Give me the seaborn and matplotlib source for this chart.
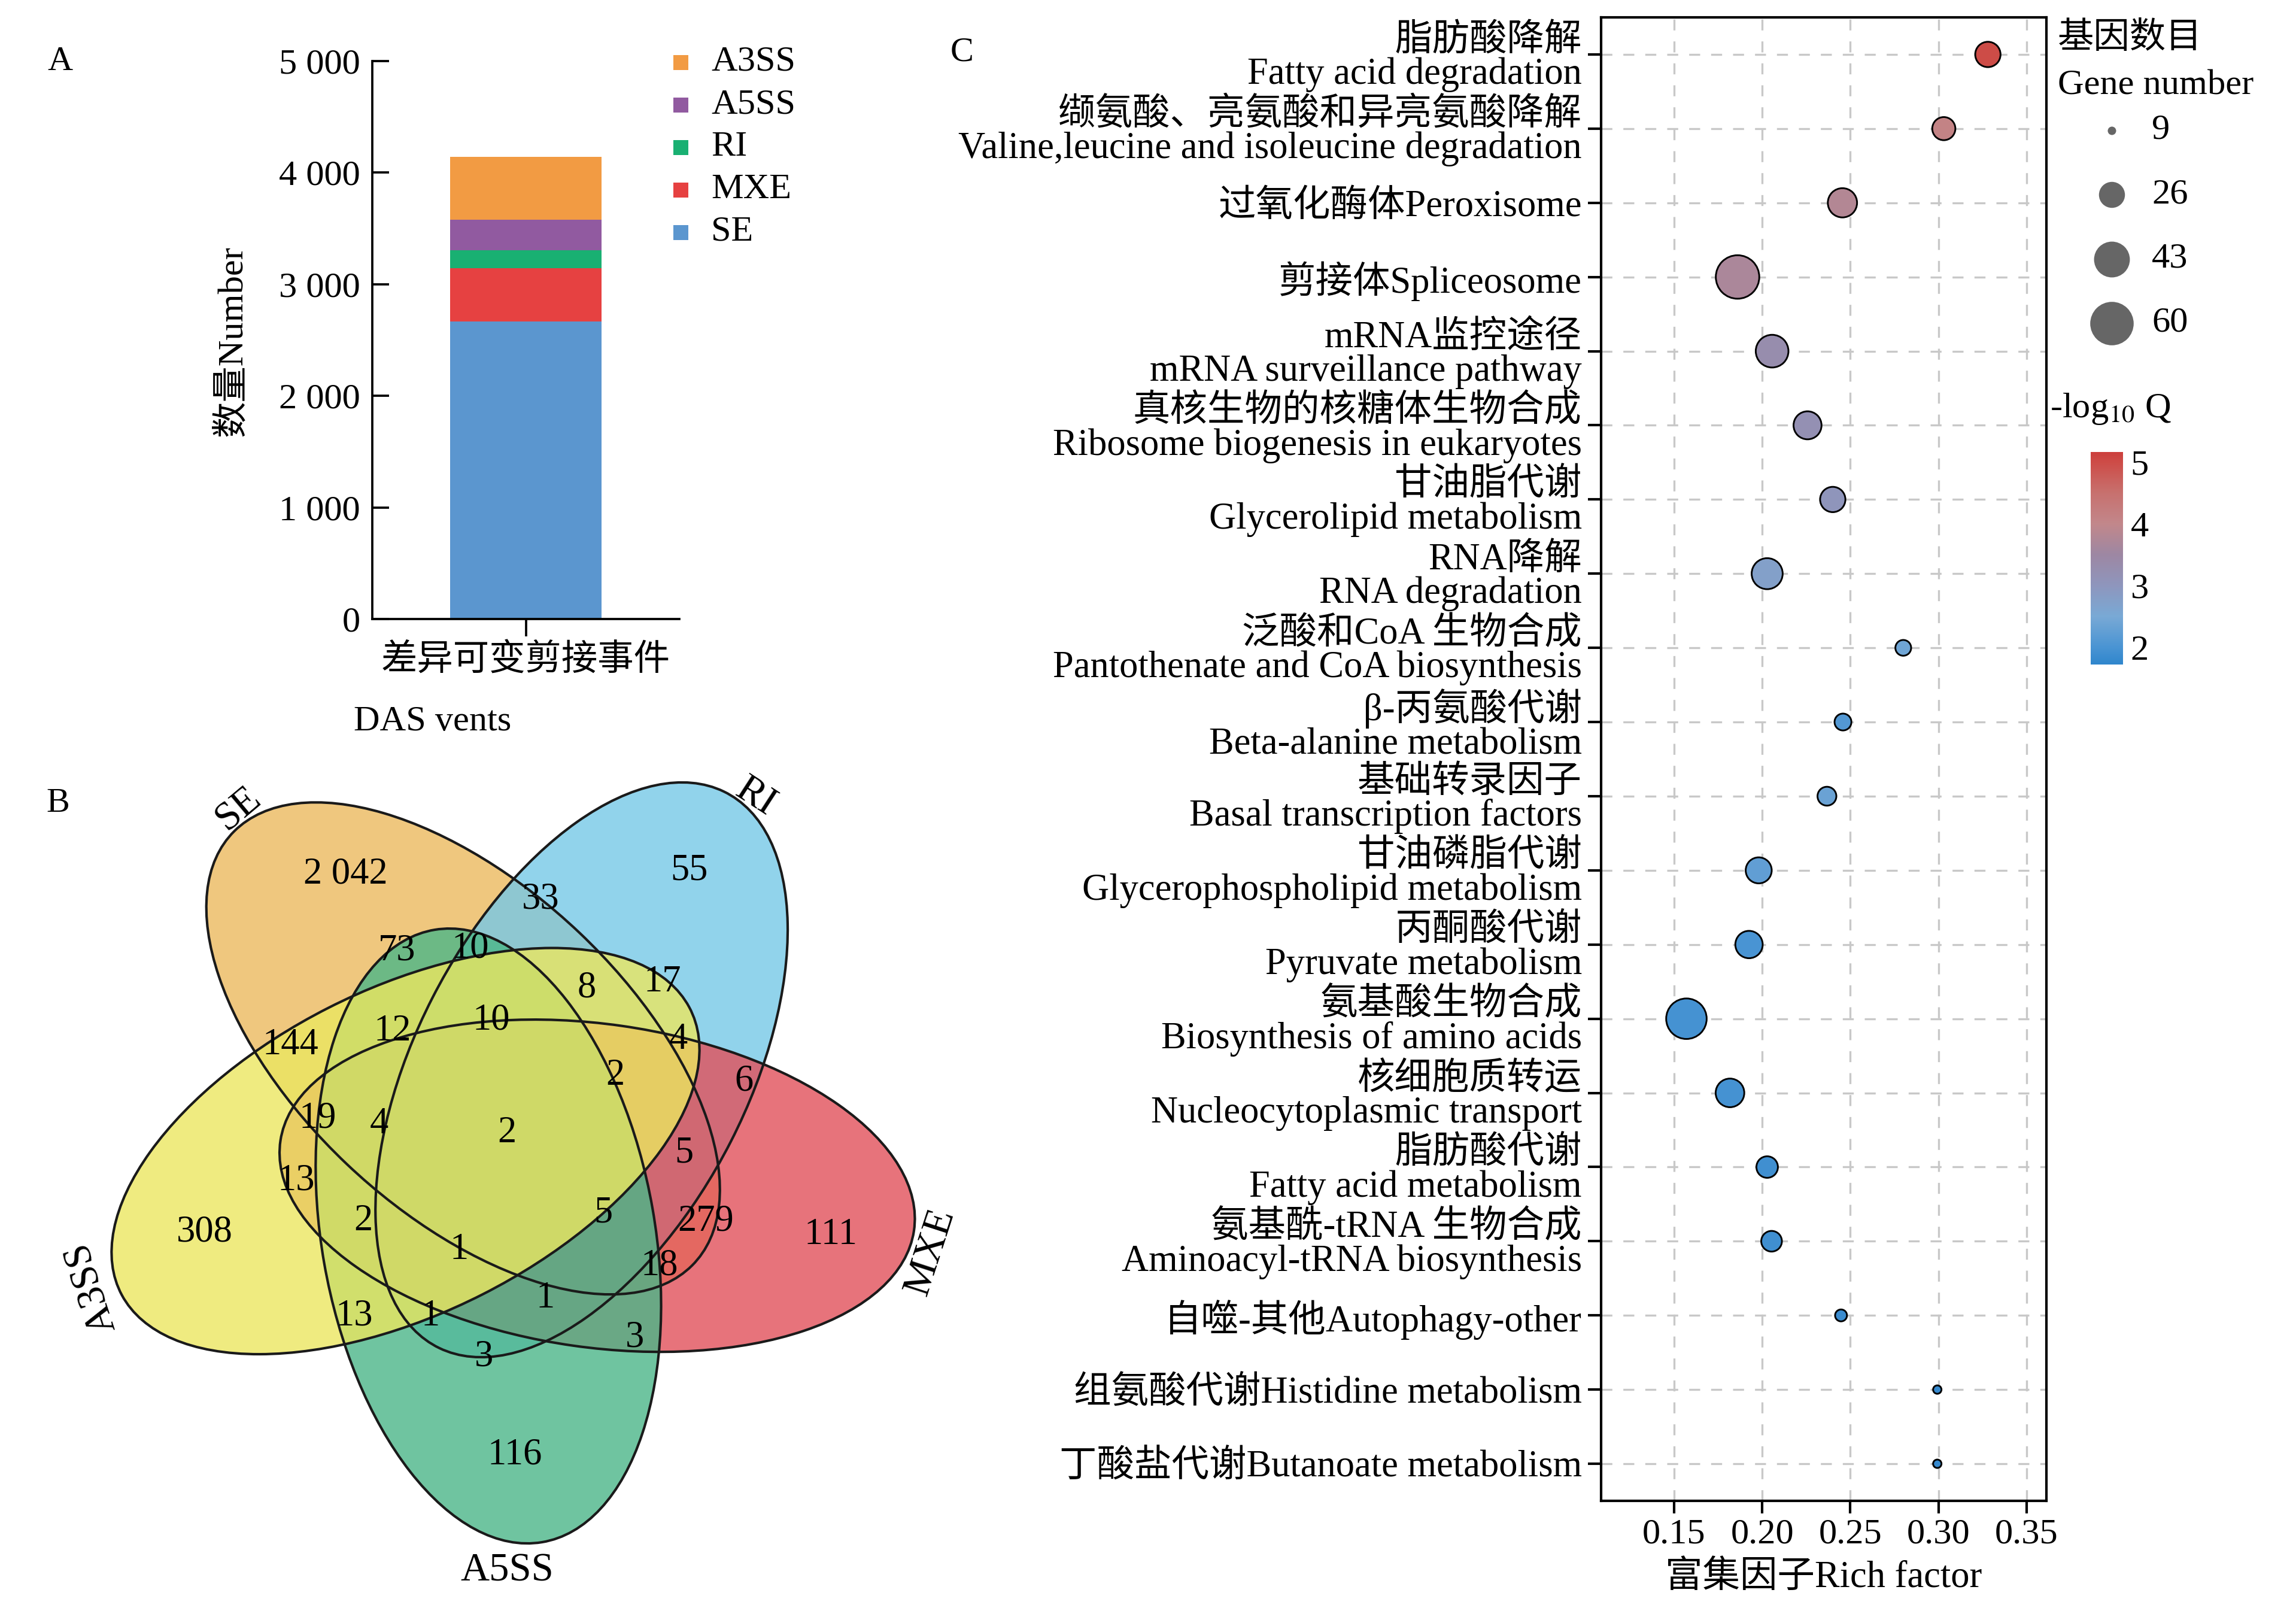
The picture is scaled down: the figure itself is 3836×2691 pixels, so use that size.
import numpy as np
import pandas as pd
import matplotlib
matplotlib.use("Agg")
import matplotlib.pyplot as plt
from matplotlib.patches import Ellipse
from matplotlib.colors import LinearSegmentedColormap, Normalize
from matplotlib.ticker import FuncFormatter
import seaborn as sns

# Macros
WIDTH_PX = 3836
HEIGHT_PX = 2691
DPI = 300
FONT = ["Liberation Serif", "Noto Sans CJK SC"]
FS = 14.5

# Panel A: differential alternative splicing events (stacked bottom -> top)
event_types = ["SE", "MXE", "RI", "A5SS", "A3SS"]
event_counts = [2668, 477, 161, 273, 563]
event_colors = ["#5b96cf", "#e64141", "#19b072", "#915aa0", "#f29b43"]
bar_category = "差异可变剪接事件"
bar_ticks = [0, 1000, 2000, 3000, 4000, 5000]

# Panel B: five-set Venn
venn_sets = ["SE", "RI", "MXE", "A5SS", "A3SS"]
venn_colors = ["#ebb95e", "#76c8e7", "#e2505a", "#4bb688", "#ebe760"]
venn_counts = ["2 042", "55", "33", "73", "10", "8", "17", "144", "12", "10",
               "4", "2", "6", "19", "4", "2", "5", "13", "308", "2",
               "5", "279", "111", "1", "18", "1", "13", "1", "3", "3", "116"]

# Panel C: KEGG enrichment
pathway_labels = [
    "脂肪酸降解\nFatty acid degradation",
    "缬氨酸、亮氨酸和异亮氨酸降解\nValine,leucine and isoleucine degradation",
    "过氧化酶体Peroxisome",
    "剪接体Spliceosome",
    "mRNA监控途径\nmRNA surveillance pathway",
    "真核生物的核糖体生物合成\nRibosome biogenesis in eukaryotes",
    "甘油脂代谢\nGlycerolipid metabolism",
    "RNA降解\nRNA degradation",
    "泛酸和CoA 生物合成\nPantothenate and CoA biosynthesis",
    "β-丙氨酸代谢\nBeta-alanine metabolism",
    "基础转录因子\nBasal transcription factors",
    "甘油磷脂代谢\nGlycerophospholipid metabolism",
    "丙酮酸代谢\nPyruvate metabolism",
    "氨基酸生物合成\nBiosynthesis of amino acids",
    "核细胞质转运\nNucleocytoplasmic transport",
    "脂肪酸代谢\nFatty acid metabolism",
    "氨基酰-tRNA 生物合成\nAminoacyl-tRNA biosynthesis",
    "自噬-其他Autophagy-other",
    "组氨酸代谢Histidine metabolism",
    "丁酸盐代谢Butanoate metabolism",
]
rich_factor = [0.328, 0.303, 0.2455, 0.186, 0.2056, 0.2257, 0.240, 0.2028, 0.280, 0.2458,
               0.2367, 0.198, 0.1925, 0.157, 0.1817, 0.2028, 0.2053, 0.2447, 0.2993, 0.2993]
gene_number = [25, 22, 31, 60, 37, 29, 25, 34, 14, 15,
               17, 26, 28, 53, 30, 20, 19, 11, 9, 9]
neg_log_q = [5.0, 4.1, 3.8, 3.7, 3.3, 3.2, 3.05, 2.75, 2.4, 2.1,
             2.35, 2.25, 2.0, 1.95, 1.95, 1.9, 1.9, 1.85, 1.8, 1.8]
size_breaks = [9, 26, 43, 60]
q_ticks = [2, 3, 4, 5]
q_stops = [1.72, 2.0, 2.5, 3.0, 3.5, 4.0, 4.5, 5.0, 5.17]
q_stop_colors = ["#2f86cc", "#4a94d3", "#79a9d5", "#8e96bd", "#9d87a3",
                 "#c2878b", "#c7716f", "#cd4d48", "#cc3f3c"]

# layout (pixel positions in the 3836 x 2691 canvas)
VENN_LABEL_XY = [(577, 1461), (1151, 1454), (903, 1503), (663, 1588), (786, 1585),
                 (980, 1650), (1107, 1641), (485, 1746), (656, 1723), (821, 1705),
                 (1133, 1737), (1028, 1797), (1243, 1806), (531, 1868), (633, 1878),
                 (847, 1893), (1143, 1926), (495, 1972), (342, 2059), (607, 2040),
                 (1008, 2027), (1179, 2040), (1388, 2063), (767, 2088), (1102, 2114),
                 (911, 2169), (592, 2199), (719, 2199), (1061, 2235), (809, 2266),
                 (860, 2431)]
VENN_SET_XY = [(398, 1351, 40), (1262, 1331, -33), (1554, 2091, 72),
               (847, 2624, 0), (153, 2151, 108)]
VENN_SLOT = [3, 2, 1, 0, 4]
VENN_BOX = (179, 1307, 1526, 2578)
# ellipse shape (long semi-axis = 1) and pixel mapping, fitted to the reference
VENN_B, VENN_D, VENN_TILT, VENN_BASE = 0.5203, 0.3202, 20.181, -100.551
VENN_SX, VENN_SY, VENN_OX, VENN_OY = 534.856, 518.829, 847.32, 1901.24


def px(x0, y0, x1, y1):
    """pixel box -> figure fraction rect"""
    return [x0 / WIDTH_PX, 1 - y1 / HEIGHT_PX, (x1 - x0) / WIDTH_PX, (y1 - y0) / HEIGHT_PX]


def size_of(n):
    # marker area in pt^2, linear in gene number (r=7px at 9, r=36.3px at 60)
    s9 = (2 * 7.0 * 72 / DPI) ** 2
    s60 = (2 * 36.3 * 72 / DPI) ** 2
    return s9 + (n - 9) / (60 - 9) * (s60 - s9)


sns.set_theme(style="white")
plt.rcParams["font.family"] = FONT
plt.rcParams["mathtext.fontset"] = "stix"
plt.rcParams["axes.edgecolor"] = "black"
plt.rcParams["text.color"] = "black"
plt.rcParams["xtick.color"] = "black"
plt.rcParams["ytick.color"] = "black"
plt.rcParams["axes.labelcolor"] = "black"

fig = plt.figure(figsize=(WIDTH_PX / DPI, HEIGHT_PX / DPI), dpi=DPI)

# ---------------- A: stacked bar ----------------
axA = fig.add_axes(px(622, 102, 1135, 1034))
tops = np.cumsum(event_counts)
for name, top, color in reversed(list(zip(event_types, tops, event_colors))):
    sns.barplot(x=[bar_category], y=[top], color=color, saturation=1,
                width=0.495, linewidth=0, edgecolor="none", ax=axA)
axA.set_xlim(-0.5, 0.5)
axA.set_ylim(0, 5000)
axA.set_yticks(bar_ticks)
axA.yaxis.set_major_formatter(FuncFormatter(lambda v, p: f"{int(v):,}".replace(",", " ")))
for side in ["top", "right"]:
    axA.spines[side].set_visible(False)
for side in ["left", "bottom"]:
    axA.spines[side].set_linewidth(0.9)
axA.tick_params(axis="y", direction="in", length=6.7, width=0.9, labelsize=FS, pad=4.8, left=True)
axA.tick_params(axis="x", direction="out", length=7, width=0.9, labelsize=FS, pad=3, bottom=True)
axA.set_xlabel("")
axA.set_ylabel("")

# ---------------- B: Venn ----------------
axB = fig.add_axes(px(*VENN_BOX))
geo = []
for slot in VENN_SLOT:
    phi = VENN_BASE + 72 * slot
    geo.append((VENN_D * np.cos(np.deg2rad(phi)), VENN_D * np.sin(np.deg2rad(phi)), phi + VENN_TILT))
for (cx, cy, ang), color in zip(geo, venn_colors):
    axB.add_patch(Ellipse((cx, cy), 2, 2 * VENN_B, angle=ang, facecolor=color,
                          alpha=0.8, edgecolor="none", clip_on=False))
for cx, cy, ang in geo:
    axB.add_patch(Ellipse((cx, cy), 2, 2 * VENN_B, angle=ang, facecolor="none",
                          edgecolor="#1a1a1a", linewidth=1.0, clip_on=False))
axB.set_xlim((VENN_BOX[0] - VENN_OX) / VENN_SX, (VENN_BOX[2] - VENN_OX) / VENN_SX)
axB.set_ylim((VENN_OY - VENN_BOX[3]) / VENN_SY, (VENN_OY - VENN_BOX[1]) / VENN_SY)
axB.set_axis_off()

# ---------------- C: enrichment bubble plot ----------------
axC = fig.add_axes(px(2675, 29, 3419, 2507))
q_norm = Normalize(q_stops[0], q_stops[-1])
cmap = LinearSegmentedColormap.from_list(
    "q", list(zip([(v - q_stops[0]) / (q_stops[-1] - q_stops[0]) for v in q_stops], q_stop_colors)))
df = pd.DataFrame({"rich": rich_factor, "genes": gene_number, "q": neg_log_q,
                   "pos": np.arange(len(pathway_labels))})
sns.scatterplot(data=df, x="rich", y="pos", size="genes",
                sizes=(size_of(9), size_of(60)), size_norm=(9, 60),
                hue="q", palette=cmap, hue_norm=q_norm,
                edgecolor="black", linewidth=0.7, legend=False, ax=axC, zorder=3)
axC.set_xlim(0.1086, 0.3612)
axC.set_ylim(len(pathway_labels) - 0.5, -0.5)
axC.set_xticks([0.15, 0.20, 0.25, 0.30, 0.35])
axC.xaxis.set_major_formatter(FuncFormatter(lambda v, p: f"{v:.2f}"))
axC.set_yticks(df["pos"])
axC.set_yticklabels(pathway_labels)
for t in axC.get_yticklabels():
    t.set_linespacing(0.95)
axC.grid(True, linestyle=(0, (5.5, 5.5)), color="#c8c8c8", linewidth=0.8)
axC.set_axisbelow(True)
for side in axC.spines:
    axC.spines[side].set_linewidth(1.0)
axC.tick_params(axis="y", direction="out", length=5.3, width=1.0, labelsize=15, pad=2.4, left=True)
axC.tick_params(axis="x", direction="out", length=5.0, width=1.0, labelsize=FS, pad=2, bottom=True)
axC.set_xlabel("富集因子Rich factor", fontsize=15, labelpad=4)
axC.set_ylabel("")

# colour bar
cax = fig.add_axes(px(3493, 755, 3547, 1110))
sm = plt.cm.ScalarMappable(norm=q_norm, cmap=cmap)
cb = fig.colorbar(sm, cax=cax, ticks=q_ticks)
cb.outline.set_visible(False)
cax.tick_params(direction="in", length=2.6, width=1.0, color="white",
                left=True, right=True, labelsize=FS, pad=3)

# ---------------- overlay for free text / legends ----------------
ov = fig.add_axes([0, 0, 1, 1])
ov.set_xlim(0, WIDTH_PX)
ov.set_ylim(HEIGHT_PX, 0)
ov.set_axis_off()

# panel letters
ov.text(100, 103, "A", fontsize=14, ha="center", va="center")
ov.text(97, 1342, "B", fontsize=14, ha="center", va="center")
ov.text(1607, 87, "C", fontsize=14, ha="center", va="center")

# panel A labels + legend
ov.text(388, 570, "数量Number", fontsize=FS, rotation=90, ha="center", va="center")
ov.text(723, 1206, "DAS vents", fontsize=FS, ha="center", va="center")
for i, (name, color) in enumerate(zip(reversed(event_types), reversed(event_colors))):
    y = 104 + 71 * i
    ov.scatter([1137], [y], marker="s", s=(25 * 72 / DPI) ** 2, color=color, linewidths=0)
    ov.text(1188, y, name, fontsize=FS, ha="left", va="center")

# Venn numbers and set names
for txt, (x, y) in zip(venn_counts, VENN_LABEL_XY):
    ov.text(x, y, txt, fontsize=15, ha="center", va="center")
for name, (x, y, rot) in zip(venn_sets, VENN_SET_XY):
    ov.text(x, y, name, fontsize=16, ha="center", va="center", rotation=rot)

# size legend
ov.text(3438, 65, "基因数目", fontsize=FS, ha="left", va="center")
ov.text(3438, 143, "Gene number", fontsize=FS, ha="left", va="center")
for i, n in enumerate(size_breaks):
    y = 218 + 107.3 * i
    ov.scatter([3528], [y], s=size_of(n), color="#666666", linewidths=0)
    ov.text(3595, y, str(n), fontsize=FS, ha="left", va="center")
ov.text(3425, 683, r"-log$_{10}$ Q", fontsize=FS, ha="left", va="center")

fig.savefig("out.png", dpi=DPI)
